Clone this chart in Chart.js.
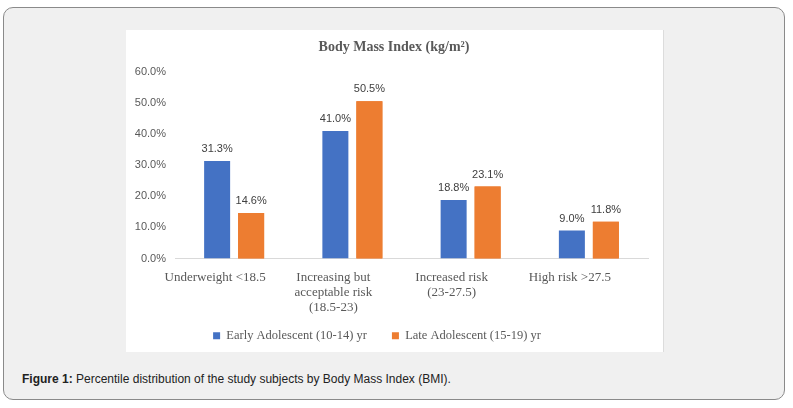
<!DOCTYPE html>
<html>
<head>
<meta charset="utf-8">
<script src="https://cdn.jsdelivr.net/npm/chart.js@4.4.1/dist/chart.umd.min.js"></script>
<style>
  html, body { margin: 0; padding: 0; background: #ffffff; width: 793px; height: 408px; overflow: hidden; }
  #frame { position: absolute; left: 3px; top: 7px; width: 782px; height: 393px; box-sizing: border-box;
           border: 1px solid #8a8a8a; border-radius: 10px; background: #f0f0f0; }
  #panel { position: absolute; left: 126px; top: 30px; width: 537px; height: 322px; background: #ffffff;
           border-right: 1px solid #dcdcdc; box-sizing: content-box; }
  #caption { position: absolute; left: 22px; top: 372px; font-family: "Liberation Sans", Arial, sans-serif;
             font-size: 12px; color: #222; white-space: nowrap; }
</style>
</head>
<body>
<div id="frame"></div>
<div id="panel"><canvas id="c" width="537" height="322"></canvas></div>
<div id="caption"><b>Figure 1:</b> Percentile distribution of the study subjects by Body Mass Index (BMI).</div>
<script>
const categories = [
  ['Underweight <18.5'],
  ['Increasing but', 'acceptable risk', '(18.5-23)'],
  ['Increased risk', '(23-27.5)'],
  ['High risk >27.5']
];
const seriesNames = ['Early Adolescent (10-14) yr', 'Late Adolescent (15-19) yr'];
const earlyValues = [31.3, 41.0, 18.8, 9.0];
const lateValues = [14.6, 50.5, 23.1, 11.8];
const yTicks = [0, 10, 20, 30, 40, 50, 60];
const chartTitle = 'Body Mass Index (kg/m\u00B2)';

const serif = '"Liberation Serif", "DejaVu Serif", serif';
const sans = '"Liberation Sans", Arial, sans-serif';

const labelPlugin = {
  id: 'valueLabels',
  afterLayout(chart) {
    // let multi-line category labels extend below the axis box without clipping
    chart.scales.x.bottom = chart.height;
    // centre the title over the panel like the original
    if (chart.titleBlock) { chart.titleBlock.left += 17; chart.titleBlock.right += 17; }
  },
  afterDatasetsDraw(chart) {
    const ctx = chart.ctx;
    ctx.save();
    const setFont = () => {
      ctx.font = '11px ' + sans;
      ctx.fillStyle = '#404040';
      ctx.textAlign = 'center';
      ctx.textBaseline = 'middle';
    };
    setFont();
    const m0 = chart.getDatasetMeta(0);
    m0.data.forEach((bar, i) => {
      ctx.fillText(chart.data.datasets[0].data[i].toFixed(1) + '%', bar.x, bar.y - 12);
    });
    const m1 = chart.getDatasetMeta(1);
    m1.data.forEach(bar => bar.draw(ctx));
    setFont();
    m1.data.forEach((bar, i) => {
      ctx.fillText(chart.data.datasets[1].data[i].toFixed(1) + '%', bar.x, bar.y - 12);
    });
    ctx.restore();
  }
};

new Chart(document.getElementById('c'), {
  type: 'bar',
  data: {
    labels: categories,
    datasets: [
      { label: seriesNames[0], data: earlyValues, backgroundColor: '#4472C4', categoryPercentage: 0.575, barPercentage: 0.765 },
      { label: seriesNames[1], data: lateValues, backgroundColor: '#ED7D31', categoryPercentage: 0.575, barPercentage: 0.765 }
    ]
  },
  options: {
    responsive: false,
    animation: false,
    layout: { padding: { left: -20, right: 15, top: 0, bottom: 0 } },
    plugins: {
      title: {
        display: true, text: chartTitle, color: '#595959',
        font: { family: serif, size: 14, weight: 'bold', lineHeight: 1.2 },
        padding: { top: 9, bottom: 16 }
      },
      legend: {
        position: 'bottom',
        labels: {
          boxWidth: 7, boxHeight: 7, color: '#595959', padding: 25,
          font: { family: serif, size: 12.5 }
        }
      },
      tooltip: { enabled: false }
    },
    scales: {
      x: {
        grid: { display: false, drawTicks: false },
        border: { display: true, color: '#d9d9d9' },
        ticks: { color: '#595959', padding: 12, maxRotation: 0, autoSkip: false, labelOffset: -19,
                 font: { family: serif, size: 13, lineHeight: 1.154 } },
        afterFit(s) { s.height = 46; }
      },
      y: {
        min: 0, max: 60,
        afterBuildTicks(s) { s.ticks = yTicks.map(v => ({ value: v })); },
        grid: { display: false, drawTicks: false },
        border: { display: false },
        ticks: { color: '#595959', padding: 9, font: { family: sans, size: 11 },
                 callback: v => Number(v).toFixed(1) + '%' },
        afterFit(s) { s.width = 69; }
      }
    }
  },
  plugins: [labelPlugin]
});
</script>
</body>
</html>
